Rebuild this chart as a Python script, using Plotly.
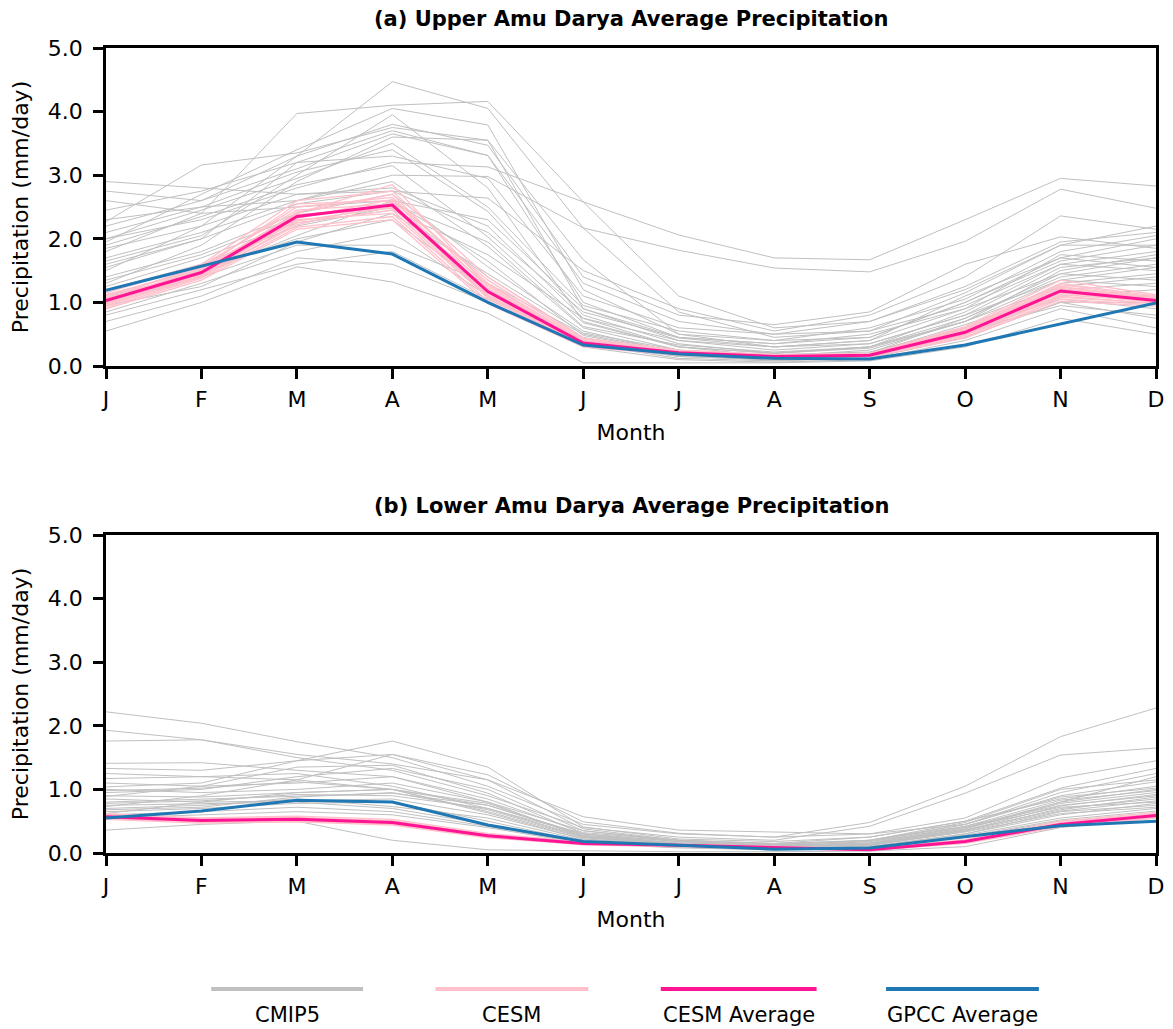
import plotly.graph_objects as go

# ---------------------------------------------------------------------------
# Data: monthly mean precipitation (mm/day)
# ---------------------------------------------------------------------------
months = ["J", "F", "M", "A", "M", "J", "J", "A", "S", "O", "N", "D"]

# Upper Amu Darya
upper_cmip5 = [
    [1.80, 2.40, 3.97, 4.10, 4.16, 2.58, 1.10, 0.60, 0.70, 1.20, 1.90, 1.90],
    [1.50, 2.20, 3.30, 4.47, 4.05, 2.17, 0.85, 0.45, 0.55, 0.95, 1.60, 1.80],
    [2.27, 3.16, 3.35, 3.75, 3.55, 1.67, 0.50, 0.30, 0.40, 1.10, 1.70, 2.00],
    [2.00, 2.30, 2.80, 3.20, 3.13, 2.58, 2.06, 1.70, 1.67, 2.30, 2.95, 2.83],
    [2.10, 2.50, 2.60, 3.00, 2.98, 2.17, 1.82, 1.54, 1.48, 1.96, 2.78, 2.48],
    [2.90, 2.80, 2.70, 2.75, 2.64, 1.50, 0.90, 0.55, 0.80, 1.40, 2.36, 2.15],
    [2.75, 2.60, 3.30, 3.80, 3.47, 1.40, 0.80, 0.65, 0.85, 1.60, 2.03, 1.85],
    [1.95, 2.70, 3.40, 4.05, 3.79, 1.20, 0.50, 0.40, 0.60, 1.05, 1.80, 2.05],
    [1.60, 2.00, 3.20, 3.70, 3.31, 1.00, 0.45, 0.35, 0.50, 0.90, 1.75, 1.65],
    [1.30, 1.90, 2.90, 3.60, 3.55, 0.90, 0.40, 0.25, 0.35, 0.80, 1.55, 1.70],
    [2.30, 2.50, 3.05, 3.40, 2.43, 0.80, 0.35, 0.20, 0.30, 0.85, 1.60, 1.50],
    [1.90, 2.35, 2.85, 3.15, 2.03, 0.68, 0.30, 0.15, 0.25, 0.70, 1.50, 1.75],
    [1.70, 2.10, 2.60, 2.90, 1.88, 0.60, 0.25, 0.12, 0.20, 0.75, 1.40, 1.60],
    [1.40, 1.80, 2.40, 2.70, 1.56, 0.55, 0.20, 0.10, 0.18, 0.60, 1.30, 1.45],
    [1.20, 1.60, 2.20, 2.50, 1.40, 0.45, 0.18, 0.08, 0.15, 0.55, 1.20, 1.30],
    [1.05, 1.50, 2.00, 2.30, 1.20, 0.40, 0.15, 0.10, 0.15, 0.50, 1.10, 1.20],
    [0.85, 1.30, 1.80, 2.10, 1.10, 0.35, 0.12, 0.08, 0.12, 0.45, 1.00, 1.00],
    [0.55, 1.00, 1.56, 1.32, 0.83, 0.05, 0.05, 0.05, 0.08, 0.30, 0.75, 0.50],
    [0.70, 1.10, 1.70, 1.60, 1.00, 0.30, 0.10, 0.06, 0.10, 0.40, 0.90, 0.60],
    [1.00, 1.40, 1.90, 1.90, 1.30, 0.50, 0.22, 0.15, 0.20, 0.55, 0.95, 0.80],
    [1.25, 1.70, 2.25, 2.45, 1.75, 0.75, 0.40, 0.30, 0.40, 0.90, 1.45, 1.35],
    [1.55, 2.00, 2.55, 2.75, 2.10, 0.85, 0.44, 0.30, 0.35, 0.80, 1.35, 1.55],
    [2.00, 2.45, 2.95, 3.50, 2.50, 0.95, 0.55, 0.40, 0.45, 1.00, 1.65, 1.90],
    [2.45, 2.75, 3.20, 3.30, 2.95, 1.10, 0.60, 0.50, 0.55, 1.15, 1.90, 2.20],
    [1.85, 2.20, 2.70, 2.80, 2.20, 0.75, 0.30, 0.20, 0.28, 0.70, 1.25, 1.40],
    [1.10, 1.45, 2.05, 2.60, 1.65, 0.48, 0.20, 0.12, 0.20, 0.65, 1.15, 1.10],
    [0.95, 1.25, 1.95, 2.40, 1.45, 0.52, 0.25, 0.18, 0.22, 0.60, 1.05, 0.90],
    [1.65, 2.05, 3.00, 3.95, 2.80, 0.70, 0.30, 0.20, 0.30, 0.75, 1.45, 1.70],
    [2.20, 2.60, 3.10, 3.65, 3.31, 1.30, 0.70, 0.50, 0.70, 1.25, 1.95, 2.10],
    [1.35, 1.75, 2.35, 2.55, 1.95, 0.62, 0.33, 0.22, 0.30, 0.70, 1.35, 1.25],
    [0.80, 1.20, 1.60, 1.80, 1.05, 0.35, 0.15, 0.10, 0.15, 0.50, 1.00, 0.75],
    [2.60, 2.40, 2.50, 2.60, 2.30, 0.90, 0.45, 0.35, 0.45, 1.00, 1.70, 1.55],
]
upper_cesm = [
    [1.10, 1.55, 2.50, 2.65, 1.30, 0.40, 0.24, 0.17, 0.19, 0.58, 1.28, 1.08],
    [0.95, 1.40, 2.25, 2.45, 1.10, 0.33, 0.19, 0.13, 0.15, 0.48, 1.10, 0.98],
    [1.05, 1.50, 2.40, 2.85, 1.25, 0.38, 0.22, 0.16, 0.18, 0.55, 1.22, 1.05],
    [1.00, 1.42, 2.30, 2.40, 1.08, 0.34, 0.20, 0.14, 0.16, 0.50, 1.15, 1.00],
    [1.12, 1.52, 2.55, 2.60, 1.35, 0.42, 0.23, 0.16, 0.18, 0.60, 1.30, 1.10],
    [0.92, 1.38, 2.18, 2.35, 1.02, 0.31, 0.18, 0.13, 0.15, 0.46, 1.05, 0.96],
    [1.08, 1.48, 2.42, 2.70, 1.22, 0.37, 0.21, 0.15, 0.17, 0.56, 1.25, 1.06],
    [0.98, 1.45, 2.28, 2.50, 1.12, 0.35, 0.20, 0.14, 0.16, 0.52, 1.12, 1.02],
    [1.06, 1.58, 2.45, 2.55, 1.20, 0.36, 0.21, 0.15, 0.17, 0.54, 1.20, 1.04],
    [1.02, 1.44, 2.32, 2.62, 1.15, 0.35, 0.20, 0.14, 0.17, 0.51, 1.17, 1.01],
    [1.15, 1.60, 2.60, 2.75, 1.40, 0.44, 0.25, 0.18, 0.20, 0.62, 1.35, 1.12],
    [0.90, 1.35, 2.15, 2.30, 0.98, 0.30, 0.17, 0.12, 0.14, 0.44, 1.02, 0.94],
    [1.04, 1.53, 2.38, 2.48, 1.28, 0.39, 0.22, 0.16, 0.19, 0.57, 1.24, 1.07],
    [0.97, 1.41, 2.22, 2.58, 1.06, 0.32, 0.19, 0.13, 0.15, 0.49, 1.08, 0.99],
]
upper_cesm_avg = [1.03, 1.47, 2.35, 2.53, 1.17, 0.36, 0.21, 0.15, 0.17, 0.53, 1.18, 1.03]
upper_gpcc = [1.19, 1.57, 1.95, 1.76, 1.00, 0.33, 0.19, 0.12, 0.11, 0.33, 0.66, 0.99]

# Lower Amu Darya
lower_cmip5 = [
    [2.22, 2.04, 1.75, 1.50, 1.05, 0.45, 0.30, 0.25, 0.48, 1.05, 1.83, 2.28],
    [1.93, 1.78, 1.50, 1.30, 0.90, 0.40, 0.25, 0.20, 0.42, 0.94, 1.54, 1.65],
    [1.76, 1.78, 1.55, 1.40, 1.15, 0.57, 0.36, 0.33, 0.30, 0.55, 1.18, 1.45],
    [1.41, 1.42, 1.30, 1.20, 0.80, 0.35, 0.20, 0.15, 0.25, 0.50, 1.02, 1.33],
    [1.33, 1.30, 1.45, 1.55, 1.23, 0.49, 0.31, 0.25, 0.30, 0.45, 0.95, 1.25],
    [1.17, 1.20, 1.25, 1.05, 0.70, 0.30, 0.18, 0.12, 0.20, 0.45, 0.90, 1.12],
    [1.04, 1.10, 1.45, 1.76, 1.35, 0.41, 0.22, 0.18, 0.25, 0.50, 0.85, 1.05],
    [0.89, 1.05, 1.35, 1.38, 0.94, 0.30, 0.15, 0.10, 0.18, 0.40, 0.80, 1.00],
    [0.95, 1.00, 1.20, 1.33, 1.00, 0.35, 0.18, 0.12, 0.15, 0.38, 0.78, 0.95],
    [0.73, 0.90, 1.15, 1.55, 1.15, 0.38, 0.20, 0.15, 0.20, 0.42, 0.75, 0.90],
    [0.62, 0.80, 0.95, 1.00, 0.63, 0.22, 0.12, 0.08, 0.12, 0.35, 0.70, 0.85],
    [0.36, 0.45, 0.50, 0.20, 0.05, 0.03, 0.02, 0.02, 0.03, 0.10, 0.40, 0.55],
    [0.80, 0.85, 0.90, 0.94, 0.75, 0.28, 0.16, 0.12, 0.15, 0.40, 0.72, 0.80],
    [0.70, 0.75, 0.85, 0.73, 0.55, 0.20, 0.12, 0.08, 0.10, 0.30, 0.65, 0.75],
    [1.00, 0.95, 1.00, 1.10, 0.80, 0.25, 0.14, 0.10, 0.14, 0.36, 0.68, 0.88],
    [0.85, 0.80, 0.82, 0.85, 0.60, 0.22, 0.12, 0.09, 0.12, 0.33, 0.62, 0.72],
    [0.65, 0.70, 0.78, 0.80, 0.50, 0.18, 0.10, 0.07, 0.09, 0.28, 0.55, 0.70],
    [0.78, 0.82, 0.92, 0.90, 0.70, 0.26, 0.14, 0.10, 0.13, 0.38, 0.80, 1.20],
    [1.10, 1.05, 1.10, 1.20, 0.85, 0.32, 0.20, 0.14, 0.18, 0.45, 0.88, 1.02],
    [0.90, 0.88, 0.95, 1.00, 0.65, 0.24, 0.13, 0.09, 0.12, 0.34, 0.66, 0.82],
    [0.55, 0.60, 0.65, 0.60, 0.40, 0.15, 0.08, 0.05, 0.08, 0.25, 0.50, 0.60],
    [0.75, 0.78, 0.80, 0.70, 0.45, 0.18, 0.10, 0.07, 0.10, 0.30, 0.60, 0.78],
    [1.25, 1.20, 1.15, 1.00, 0.75, 0.30, 0.18, 0.13, 0.20, 0.48, 1.00, 1.15],
    [0.68, 0.72, 0.88, 0.95, 0.68, 0.25, 0.14, 0.11, 0.14, 0.36, 0.74, 0.92],
    [0.98, 1.02, 1.12, 1.00, 0.78, 0.27, 0.15, 0.11, 0.16, 0.42, 0.83, 0.98],
    [0.60, 0.65, 0.72, 0.65, 0.42, 0.16, 0.09, 0.06, 0.09, 0.26, 0.52, 0.66],
]
lower_cesm = [
    [0.62, 0.55, 0.58, 0.53, 0.31, 0.17, 0.14, 0.10, 0.07, 0.21, 0.50, 0.64],
    [0.53, 0.47, 0.49, 0.44, 0.24, 0.13, 0.10, 0.07, 0.04, 0.15, 0.41, 0.55],
    [0.59, 0.52, 0.55, 0.50, 0.28, 0.16, 0.12, 0.08, 0.06, 0.19, 0.46, 0.60],
    [0.55, 0.50, 0.51, 0.46, 0.26, 0.14, 0.11, 0.08, 0.05, 0.17, 0.44, 0.58],
    [0.60, 0.54, 0.56, 0.51, 0.29, 0.16, 0.13, 0.09, 0.06, 0.20, 0.48, 0.62],
    [0.54, 0.48, 0.50, 0.45, 0.25, 0.14, 0.11, 0.07, 0.05, 0.16, 0.42, 0.56],
    [0.58, 0.53, 0.54, 0.49, 0.28, 0.15, 0.12, 0.09, 0.06, 0.18, 0.47, 0.61],
    [0.56, 0.49, 0.52, 0.47, 0.26, 0.15, 0.12, 0.08, 0.05, 0.17, 0.43, 0.57],
]
lower_cesm_avg = [0.57, 0.51, 0.53, 0.48, 0.27, 0.15, 0.12, 0.08, 0.05, 0.18, 0.45, 0.59]
lower_gpcc = [0.55, 0.66, 0.83, 0.80, 0.44, 0.18, 0.12, 0.06, 0.08, 0.26, 0.43, 0.50]

panel_titles = [
    "<b>(a) Upper Amu Darya Average Precipitation</b>",
    "<b>(b) Lower Amu Darya Average Precipitation</b>",
]
y_ticks = [0, 1, 2, 3, 4, 5]

# ---------------------------------------------------------------------------
# Styling
# ---------------------------------------------------------------------------
FONT = "DejaVu Sans"
C_CMIP5 = "#c0c0c0"
C_CESM = "#ffc0cb"
C_CESM_AVG = "#ff1493"
C_GPCC = "#1f77b4"

W, H = 1173, 1029
M_L, M_R, M_T, M_B = 106, 9, 48, 176
plot_h = H - M_T - M_B
panel_px = 318
top_domain = [1 - panel_px / plot_h, 1.0]
bot_domain = [0.0, panel_px / plot_h]

x = list(range(len(months)))

fig = go.Figure()


def add_panel(cmip5, cesm, cesm_avg, gpcc, xa, ya):
    for series in cmip5:
        fig.add_trace(go.Scatter(x=x, y=series, mode="lines", xaxis=xa, yaxis=ya,
                                 line=dict(color=C_CMIP5, width=1),
                                 showlegend=False, hoverinfo="skip"))
    for series in cesm:
        fig.add_trace(go.Scatter(x=x, y=series, mode="lines", xaxis=xa, yaxis=ya,
                                 line=dict(color=C_CESM, width=1.3),
                                 showlegend=False, hoverinfo="skip"))
    fig.add_trace(go.Scatter(x=x, y=cesm_avg, mode="lines", xaxis=xa, yaxis=ya,
                             line=dict(color=C_CESM_AVG, width=3),
                             name="CESM Average", showlegend=False))
    fig.add_trace(go.Scatter(x=x, y=gpcc, mode="lines", xaxis=xa, yaxis=ya,
                             line=dict(color=C_GPCC, width=3),
                             name="GPCC Average", showlegend=False))


add_panel(upper_cmip5, upper_cesm, upper_cesm_avg, upper_gpcc, "x", "y")
add_panel(lower_cmip5, lower_cesm, lower_cesm_avg, lower_gpcc, "x2", "y2")

axis_common = dict(
    showline=True, linecolor="black", linewidth=2.5, mirror=True,
    ticks="outside", ticklen=10, tickwidth=2.5, tickcolor="black",
    showgrid=False, zeroline=False,
    tickfont=dict(family=FONT, size=22, color="black"),
)
xaxis_common = dict(axis_common, range=[0, 11], tickvals=x, ticktext=months,
                    ticklabelstandoff=2,
                    title=dict(text="Month", font=dict(family=FONT, size=22, color="black"),
                               standoff=14))
yaxis_common = dict(axis_common, range=[0, 5], tickvals=y_ticks, tickformat=".1f",
                    ticklabelstandoff=6,
                    title=dict(text="Precipitation (mm/day)",
                               font=dict(family=FONT, size=22, color="black"),
                               standoff=14))

fig.update_layout(
    width=W, height=H,
    margin=dict(l=M_L, r=M_R, t=M_T, b=M_B),
    paper_bgcolor="white", plot_bgcolor="white",
    font=dict(family=FONT, size=22, color="black"),
    showlegend=False,
    xaxis=dict(xaxis_common, domain=[0, 1], anchor="y"),
    yaxis=dict(yaxis_common, domain=top_domain, anchor="x"),
    xaxis2=dict(xaxis_common, domain=[0, 1], anchor="y2"),
    yaxis2=dict(yaxis_common, domain=bot_domain, anchor="x2"),
)

# Panel titles
for title, dom in zip(panel_titles, [top_domain, bot_domain]):
    fig.add_annotation(text=title, xref="paper", yref="paper", x=0.5, y=dom[1],
                       yshift=29, showarrow=False, xanchor="center", yanchor="middle",
                       font=dict(family=FONT, size=21, color="black"))

# Legend below the panels: a line sample above each label
plot_w = W - M_L - M_R
legend_items = [
    ("CMIP5", C_CMIP5, 212, 365),
    ("CESM", C_CESM, 438, 592),
    ("CESM Average", C_CESM_AVG, 665, 822),
    ("GPCC Average", C_GPCC, 892, 1046),
]
line_py, text_py = 989, 1015
for label, color, x0px, x1px in legend_items:
    x0 = (x0px - M_L) / plot_w
    x1 = (x1px - M_L) / plot_w
    yl = (H - M_B - line_py) / plot_h
    yt = (H - M_B - text_py) / plot_h
    fig.add_shape(type="line", xref="paper", yref="paper", x0=x0, x1=x1, y0=yl, y1=yl,
                  line=dict(color=color, width=4))
    fig.add_annotation(text=label, xref="paper", yref="paper", x=(x0 + x1) / 2, y=yt,
                       showarrow=False, xanchor="center", yanchor="middle",
                       borderpad=0,
                       font=dict(family=FONT, size=21, color="black"))

fig.write_html("out.html")
